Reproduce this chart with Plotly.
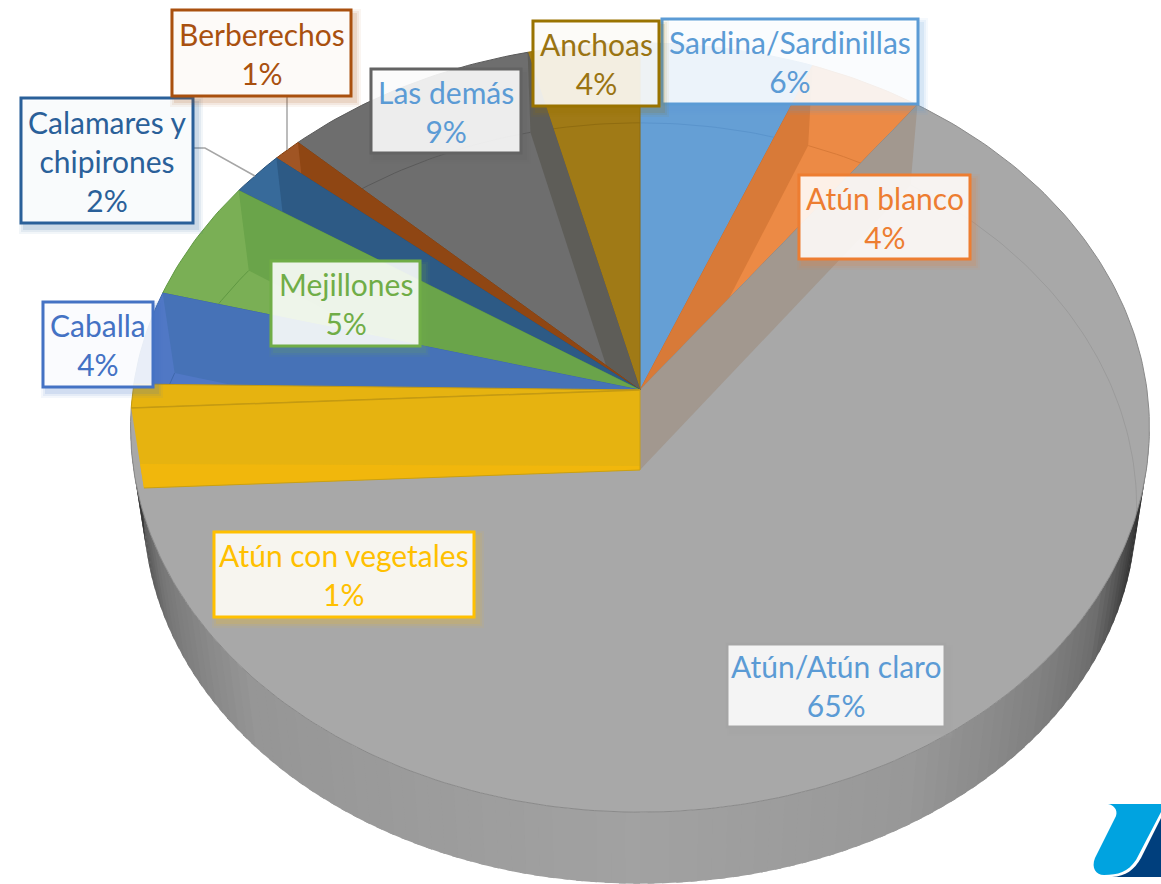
import numpy as np
import plotly.graph_objects as go

categorias = ["Sardina/Sardinillas", "Atún blanco", "Atún/Atún claro", "Atún con vegetales", "Caballa",
              "Mejillones", "Calamares y<br>chipirones", "Berberechos", "Las demás", "Anchoas"]
valores = [6.05, 4.0, 64.2, 1.0, 3.95, 5.1, 1.9, 1.0, 8.9, 3.9]
etiquetas = ["6%", "4%", "65%", "1%", "4%", "5%", "2%", "1%", "9%", "4%"]

# (light top colour, darker cut-wall colour, edge colour)
colores = [("#659FD5", "#659FD5", "#5A94CC"), ("#EC8A45", "#D87A38", "#C96F30"), ("#A8A8A8", "#A2988F", "#8A8A8A"),
           ("#E6B310", "#E6B310", "#C49A12"), ("#5078C5", "#4672B7", "#3F68AC"), ("#7AAF55", "#6AA44A", "#5F9842"),
           ("#376A9A", "#2D5A85", "#28527A"), ("#A05524", "#8F4613", "#84400F"), ("#6E6E6E", "#5E5D58", "#5A5A5A"),
           ("#A07A16", "#A07A16", "#8F6C10")]

cajas = [(662, 19, 918, 104, "#5B9BD5", "#5B9BD5"), (799, 175, 970, 259, "#ED7D31", "#ED7D31"),
         (727, 644, 945, 727, "#A5A5A5", "#5B9BD5"), (214, 532, 474, 617, "#FFC000", "#FFC000"),
         (43, 302, 153, 387, "#4472C4", "#4472C4"), (271, 261, 420, 346, "#70AD47", "#70AD47"),
         (21, 98, 193, 223, "#2A6099", "#2A6099"), (172, 10, 351, 96, "#A9500F", "#A9500F"),
         (371, 69, 521, 153, "#636363", "#5B9BD5"), (533, 21, 659, 106, "#997300", "#9A7412")]

CX, CY, A, B, K, DZ = 640.0, 390.0, 507.0, 381.0, -0.0975, 80.0
fronteras = 3.6 * np.concatenate([[0], np.cumsum(valores)])


def proj(theta, r=1.0, base=False):
    t = np.radians(theta)
    u, v = r * np.sin(t), -r * np.cos(t)
    d = 1 + K * v
    x, w = A * u / d, B * v / d
    if base:
        return CX + 0.975 * x, CY + DZ + w * (1 - 0.02 * np.maximum(v, 0))
    return CX + x, CY + w


def arco(t0, t1, base=False):
    n = max(int(abs(t1 - t0)) + 2, 3)
    return proj(np.linspace(t0, t1, n), base=base)


fig = go.Figure()


def poly(x, y, fill, line=None, w=1):
    fig.add_trace(go.Scatter(x=list(x), y=list(y), mode="lines", fill="toself", fillcolor=fill,
                             line=dict(color=line or fill, width=w if line else 0),
                             hoverinfo="skip", showlegend=False))


def linea(x, y, color, w=1):
    fig.add_trace(go.Scatter(x=list(x), y=list(y), mode="lines", line=dict(color=color, width=w),
                             hoverinfo="skip", showlegend=False))


def cuña(i):
    x, y = arco(fronteras[i], fronteras[i + 1])
    poly([CX, *x, CX], [CY, *y, CY], colores[i][0], colores[i][2])


def pared(theta, color):
    x0, y0 = proj(theta)
    x1, y1 = proj(theta, base=True)
    poly([CX, x0, x1, CX, CX], [CY, y0, y1, CY + DZ, CY], color)


def arco_base(i, color):
    x, y = arco(fronteras[i], fronteras[i + 1], base=True)
    linea(x, y, color)


# outer cylinder wall, shaded by angle
angulos = np.arange(96, 268, 1.5)
ang_ref = [96, 102, 108, 120, 132, 150, 180, 225, 245, 255, 259, 262, 264, 268]
sombra = [70, 40, 60, 110, 130, 152, 162, 150, 118, 80, 48, 60, 150, 165]
for a in angulos:
    xa, ya = arco(a, a + 2.2)
    xb, yb = arco(a + 2.2, a, base=True)
    s = int(np.interp(a, ang_ref, sombra))
    poly([*xa, *xb, xa[0]], [*ya, *yb, ya[0]], f"rgb({s},{s},{s})")

# right side of the pie, then the big slice
cuña(0)
arco_base(0, "#5A94CC")
cuña(1)
pared(fronteras[1], colores[1][1])
arco_base(1, "#D87A38")
cuña(2)
pared(fronteras[2], colores[2][1])
xa, ya = arco(fronteras[2], 102, base=True)
linea(xa, ya, "rgba(0,0,0,0.08)")

# left side, back to front
for i in [9, 8, 7, 6, 5, 4]:
    cuña(i)
    if i != 9:
        pared(fronteras[i + 1], colores[i][1])
    arco_base(i, colores[i][2])

# thin yellow slice and its big cut wall
cuña(3)
pared(fronteras[3], "#E6B310")
x0, y0 = proj(fronteras[3])
x1, y1 = proj(fronteras[3], base=True)
f = 0.7
poly([x0 + f * (x1 - x0), CX, CX, x1], [y0 + f * (y1 - y0), CY + 0.95 * DZ, CY + DZ, y1], "#F1B70C")
linea([x0, CX], [y0, CY], "#C49A12", 1.5)
linea([x1, CX, CX], [y1, CY + DZ, CY], "#C9A014", 1)

# leader lines
linea([287, 287], [96, 150], "#A6A6A6", 1.5)
linea([193, 205, 255], [148, 148, 176], "#A6A6A6", 1.5)

shapes = []
annotations = []
for (x0, y0, x1, y1, borde, txt), cat, pct in zip(cajas, categorias, etiquetas):
    for g, al in [(6, 0.06), (4, 0.08), (2, 0.12)]:
        shapes.append(dict(type="rect", x0=x0 - g + 4, y0=y0 - g + 5, x1=x1 + g + 4, y1=y1 + g + 5,
                           fillcolor=borde, opacity=al, line_width=0, layer="above"))
    shapes.append(dict(type="rect", x0=x0, y0=y0, x1=x1, y1=y1, fillcolor="white", opacity=0.88,
                       line_width=0, layer="above"))
    shapes.append(dict(type="rect", x0=x0, y0=y0, x1=x1, y1=y1,
                       line=dict(color=borde, width=3), layer="above"))
    annotations.append(dict(x=(x0 + x1) / 2, y=(y0 + y1) / 2, text=f"{cat}<br>{pct}", showarrow=False,
                            xref="x", yref="y", xanchor="center", yanchor="middle", align="center",
                            font=dict(family="Lato", size=30, color=txt)))

# logo
shapes.append(dict(type="path", layer="above", line_width=0, fillcolor="#00A3E0",
                   path="M1108,804 C1114,805 1118,810 1116,816 L1095,858 C1091,868 1096,875 1104,875 "
                        "C1118,875 1128,872 1136,860 L1161,812 L1161,804 Z"))
shapes.append(dict(type="path", layer="above", line_width=0, fillcolor="#003F7D",
                   path="M1161,818 L1141,858 C1134,870 1126,876 1112,877 L1161,877 Z"))

fig.update_layout(width=1161, height=884, margin=dict(l=0, r=0, t=0, b=0), autosize=False,
                  paper_bgcolor="white", plot_bgcolor="white", showlegend=False,
                  xaxis=dict(range=[0, 1161], visible=False, fixedrange=True),
                  yaxis=dict(range=[884, 0], visible=False, fixedrange=True),
                  shapes=shapes, annotations=annotations)

fig.write_html("out.html", config={"displayModeBar": False},
               post_script="document.body.style.margin='0';document.documentElement.style.overflow='hidden';")
